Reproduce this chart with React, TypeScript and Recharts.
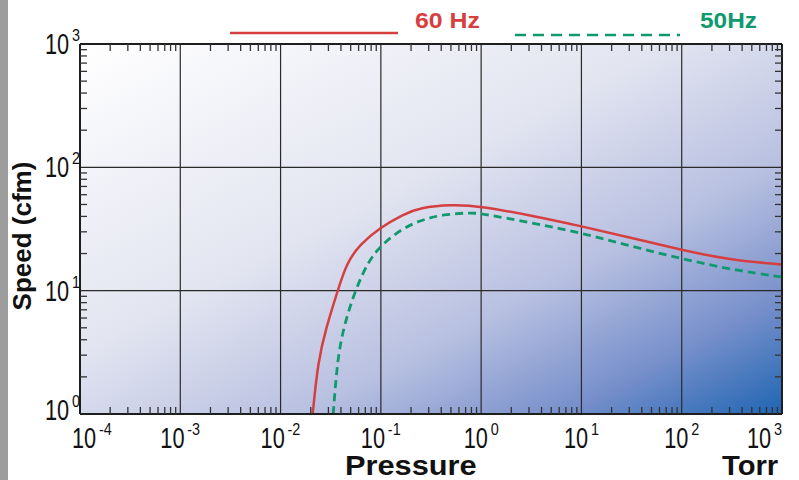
import {
  LineChart,
  Line,
  XAxis,
  YAxis,
  ReferenceLine,
  ReferenceArea,
  Legend,
} from "recharts";

// 60 Hz curve (pressure in Torr, speed in cfm)
const pressure60 = [0.0209, 0.0236, 0.0284, 0.0371, 0.0456, 0.0619, 0.098, 0.166, 0.245, 0.5, 1.0, 3.16, 10, 31.6, 100, 316, 1000];
const speed60 = [1.0, 2.66, 4.98, 10.0, 16.8, 23.7, 32.4, 41.5, 47.0, 50.0, 48.4, 40.7, 33.3, 26.8, 21.3, 17.7, 16.3];

// 50 Hz curve
const pressure50 = [0.0335, 0.0367, 0.0422, 0.0552, 0.0748, 0.102, 0.167, 0.265, 0.419, 0.78, 1.0, 3.16, 10, 31.6, 100, 316, 1000];
const speed50 = [1.0, 2.66, 4.98, 10.0, 17.3, 23.7, 32.4, 37.8, 41.5, 42.9, 42.3, 35.5, 29.4, 22.9, 18.1, 14.8, 12.9];

const xDecades = [1e-4, 1e-3, 1e-2, 1e-1, 1, 10, 100, 1000];
const yDecades = [1, 10, 100, 1000];

const seriesNames = ["60 Hz", "50Hz"];
const RED = "#d63f40";
const GREEN = "#0f9a6e";
const tickFont = "'Liberation Sans', Arial, sans-serif";

const minorTicks = (decades: number[]) => {
  const out: number[] = [];
  decades.forEach((d, i) => {
    if (i === decades.length - 1) {
      out.push(d);
      return;
    }
    for (let m = 1; m < 10; m++) out.push(m * d);
  });
  return out;
};
const xTicks = minorTicks(xDecades);
const yTicks = minorTicks(yDecades);

const isDecade = (v: number) => {
  const l = Math.log10(v);
  return Math.abs(l - Math.round(l)) < 1e-6;
};

const TICK = "#333";

// "10" squeezed like a condensed face, exponent as a small superscript
const Pow = ({ x, y, e }: { x: number; y: number; e: number }) => (
  <g fontFamily={tickFont} fill="#111">
    <text transform={`translate(${x} ${y}) scale(0.75 1)`} fontSize={29}>
      10
    </text>
    <text transform={`translate(${x + 27} ${y - 13}) scale(0.9 1)`} fontSize={16}>
      {String(e)}
    </text>
  </g>
);

const supWidth = (e: number) => (e < 0 ? 13 : 8);

const BottomTick = (props: any) => {
  const { x, y, payload } = props;
  const v = payload.value as number;
  if (!isDecade(v)) {
    return <line x1={x} y1={y} x2={x} y2={y - 7} stroke={TICK} strokeWidth={1.3} />;
  }
  const e = Math.round(Math.log10(v));
  const total = 27 + supWidth(e);
  let start = x - total / 2;
  if (e === -4) start = x - 8;
  if (e === 3) start = x - total;
  return <Pow x={start} y={y + 34} e={e} />;
};

const LeftTick = (props: any) => {
  const { x, y, payload } = props;
  const v = payload.value as number;
  if (!isDecade(v)) {
    return <line x1={x} y1={y} x2={x + 7} y2={y} stroke={TICK} strokeWidth={1.3} />;
  }
  const e = Math.round(Math.log10(v));
  return <Pow x={x - 35} y={e === 0 ? y + 6 : y + 10} e={e} />;
};

const TopTick = (props: any) => {
  const { x, y, payload } = props;
  if (isDecade(payload.value)) return <g />;
  return <line x1={x} y1={y} x2={x} y2={y + 7} stroke={TICK} strokeWidth={1.3} />;
};

const RightTick = (props: any) => {
  const { x, y, payload } = props;
  if (isDecade(payload.value)) return <g />;
  return <line x1={x} y1={y} x2={x - 7} y2={y} stroke={TICK} strokeWidth={1.3} />;
};

const LegendBox = () => (
  <svg width={799} height={44} style={{ display: "block" }}>
    <line x1={230} y1={33} x2={398} y2={33} stroke={RED} strokeWidth={2.5} />
    <text x={415} y={28} fill={RED} fontSize={22} fontWeight="bold" fontFamily={tickFont} textLength={65} lengthAdjust="spacingAndGlyphs">
      {seriesNames[0]}
    </text>
    <line x1={515} y1={35} x2={680} y2={35} stroke={GREEN} strokeWidth={2.5} strokeDasharray="11 7" />
    <text x={700} y={28} fill={GREEN} fontSize={22} fontWeight="bold" fontFamily={tickFont} textLength={57} lengthAdjust="spacingAndGlyphs">
      {seriesNames[1]}
    </text>
  </svg>
);

const axisLine = { stroke: "#1e1e1e", strokeWidth: 2 };

const App = () => {
  const data60 = pressure60.map((p, i) => ({ p, s: speed60[i] }));
  const data50 = pressure50.map((p, i) => ({ p, s: speed50[i] }));

  return (
    <div style={{ position: "absolute", left: 0, top: 0, width: 799, height: 480, background: "#fff" }}>
      <LineChart width={799} height={480} margin={{ top: 43, right: 16, bottom: 65, left: 79 }}>
        <defs>
          <linearGradient id="bgGrad" x1="0" y1="0" x2="1" y2="1">
            <stop offset="0%" stopColor="#ffffff" />
            <stop offset="42%" stopColor="#e2e4f0" />
            <stop offset="66%" stopColor="#b8c0e1" />
            <stop offset="84%" stopColor="#7890cb" />
            <stop offset="100%" stopColor="#1f65b2" />
          </linearGradient>
        </defs>
        <ReferenceArea x1={1e-4} x2={1e3} y1={1} y2={1000} fill="url(#bgGrad)" fillOpacity={1} stroke="none" />
        {xDecades.slice(1, -1).map((d) => (
          <ReferenceLine key={`vx-${d}`} x={d} stroke="#2a2a2a" strokeWidth={1.2} />
        ))}
        {yDecades.slice(1, -1).map((d) => (
          <ReferenceLine key={`hy-${d}`} y={d} stroke="#2a2a2a" strokeWidth={1.2} />
        ))}
        <XAxis
          dataKey="p"
          type="number"
          scale="log"
          domain={[1e-4, 1e3]}
          allowDataOverflow
          ticks={xTicks}
          interval={0}
          tick={BottomTick}
          tickLine={false}
          tickSize={0}
          tickMargin={0}
          height={1}
          axisLine={axisLine}
        />
        <XAxis
          xAxisId="top"
          orientation="top"
          dataKey="p"
          type="number"
          scale="log"
          domain={[1e-4, 1e3]}
          allowDataOverflow
          ticks={xTicks}
          interval={0}
          tick={TopTick}
          tickLine={false}
          tickSize={0}
          tickMargin={0}
          height={1}
          axisLine={axisLine}
        />
        <YAxis
          type="number"
          scale="log"
          domain={[1, 1000]}
          allowDataOverflow
          ticks={yTicks}
          interval={0}
          tick={LeftTick}
          tickLine={false}
          tickSize={0}
          tickMargin={0}
          width={1}
          axisLine={axisLine}
        />
        <YAxis
          yAxisId="right"
          orientation="right"
          type="number"
          scale="log"
          domain={[1, 1000]}
          allowDataOverflow
          ticks={yTicks}
          interval={0}
          tick={RightTick}
          tickLine={false}
          tickSize={0}
          tickMargin={0}
          width={1}
          axisLine={axisLine}
        />
        <Line
          data={data60}
          dataKey="s"
          name={seriesNames[0]}
          type="basis"
          stroke={RED}
          strokeWidth={2.5}
          dot={false}
          isAnimationActive={false}
        />
        <Line
          data={data50}
          dataKey="s"
          name={seriesNames[1]}
          type="basis"
          stroke={GREEN}
          strokeWidth={2.8}
          strokeDasharray="8 5"
          dot={false}
          isAnimationActive={false}
        />
        <Legend
          layout="horizontal"
          verticalAlign="middle"
          align="center"
          content={LegendBox}
          wrapperStyle={{ position: "absolute", top: 0, left: 0, width: 799, height: 44 }}
        />
      </LineChart>
      <svg width={799} height={480} style={{ position: "absolute", left: 0, top: 0, pointerEvents: "none" }}>
        <text
          transform="translate(31 236) rotate(-90)"
          textAnchor="middle"
          fontSize={26}
          fontWeight="bold"
          fontFamily={tickFont}
          fill="#111"
        >
          Speed (cfm)
        </text>
        <text transform="translate(345 475) scale(1.14 1)" fontSize={27} fontWeight="bold" fontFamily={tickFont} fill="#111">
          Pressure
        </text>
        <text transform="translate(722 475) scale(1.08 1)" fontSize={27} fontWeight="bold" fontFamily={tickFont} fill="#111">
          Torr
        </text>
      </svg>
      <div style={{ position: "absolute", left: 0, top: 0, width: 8, height: 480, background: "#9d9d9d" }} />
    </div>
  );
};

export default App;
